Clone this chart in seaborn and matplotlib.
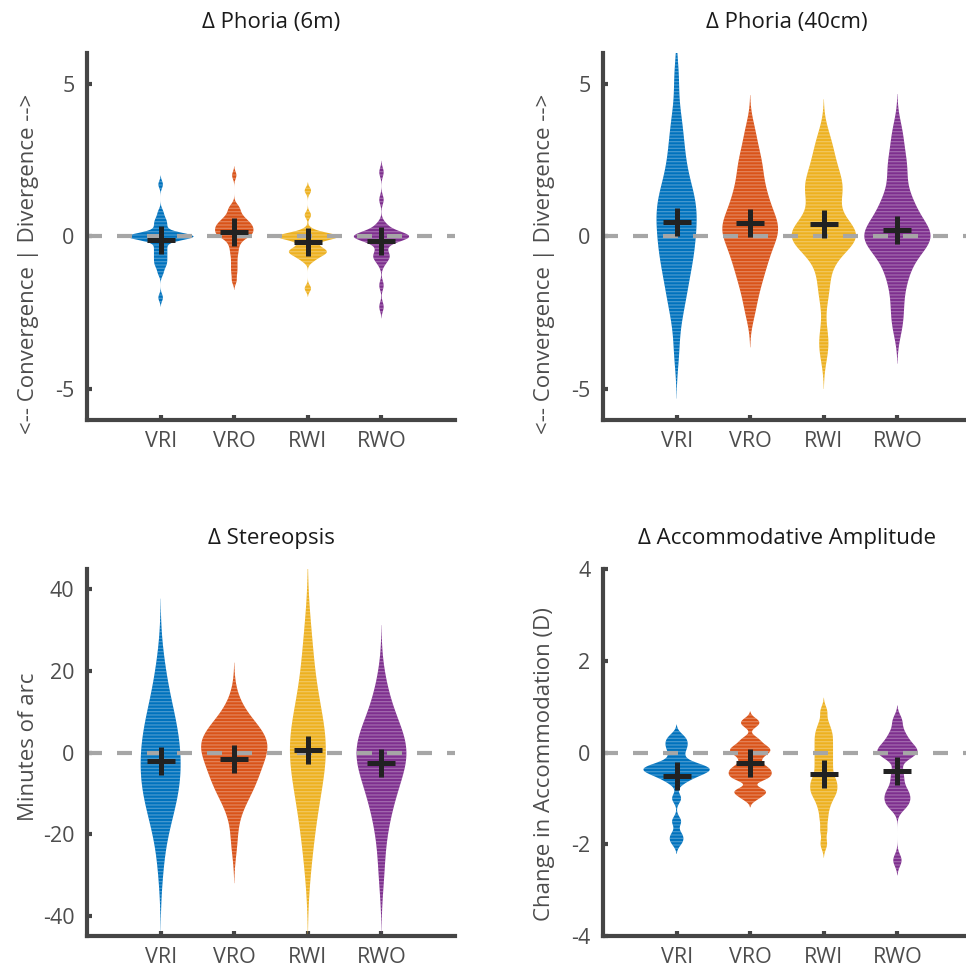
import matplotlib
matplotlib.use("Agg")
import matplotlib.pyplot as plt
import pandas as pd
import seaborn as sns

groups = ["VRI", "VRO", "RWI", "RWO"]
colors = ["#0072BD", "#D95319", "#EDB120", "#7E2F8E"]

# Change in phoria at 6 m (prism dioptres)
phoria_6m_vri = [1.7, 0.8, 0.6, 0.5, 0.4, 0.3, 0.2, 0, 0, 0, 0, 0, 0, 0, 0, 0, 0, 0, 0, 0, 0,
                 -0.2, -0.3, -0.4, -0.5, -0.6, -0.7, -0.8, -0.9, -1.0, -1.2, -2.0]
phoria_6m_vro = [2.0, 1.0, 0.9, 0.8, 0.7, 0.6, 0.6, 0.5, 0.5, 0.4, 0.4, 0.4, 0.3, 0.3, 0.3,
                 0.2, 0.2, 0.2, 0.1, 0.1, 0.1, 0, 0, 0, -0.1, -0.2, -0.3, -0.45, -0.6,
                 -0.8, -1.0, -1.2, -1.45]
phoria_6m_rwi = [1.5, 0.7, 0.2, 0.1, 0, 0, 0, 0, 0, 0, 0, 0, -0.1, -0.2, -0.3, -0.4, -0.4,
                 -0.5, -0.5, -0.5, -0.6, -0.6, -0.7, -0.8, -1.7]
phoria_6m_rwo = [2.1, 1.2, 0.4, 0.3, 0.2, 0.1, 0, 0, 0, 0, 0, 0, 0, 0, 0, 0,
                 -0.1, -0.2, -0.3, -0.5, -0.6, -0.7, -0.7, -0.9, -1.6, -2.3]

# Change in phoria at 40 cm (prism dioptres)
phoria_40_vri = [-3.8, -2.8, -2.3, -2.0, -1.7, -1.5, -1.2, -1.0, -0.8, -0.7, -0.5, -0.3,
                 -0.2, 0.0, 0.1, 0.3, 0.5, 0.6, 0.7, 0.8, 1.0, 1.2, 1.3, 1.4, 1.6, 1.8,
                 2.1, 2.4, 2.7, 3.1, 3.5, 4.0, 5.2]
phoria_40_vro = [-2.5, -2.0, -1.5, -1.5, -1.0, -1.0, -0.75, -0.5, -0.5, -0.25, 0, 0, 0,
                 0.25, 0.25, 0.5, 0.5, 0.5, 0.75, 1.0, 1.0, 1.25, 1.5, 1.5, 2.0, 2.0, 2.5,
                 2.5, 3.0, 3.5]
phoria_40_rwi = [-3.75, -3.25, -2.0, -1.5, -1.0, -0.5, -0.5, -0.25, 0, 0, 0, 0, 0, 0, 0,
                 0.25, 0.25, 0.5, 0.5, 1.0, 1.25, 1.5, 1.5, 1.5, 1.75, 2.0, 2.0, 2.5, 2.5,
                 3.0, 3.25]
phoria_40_rwo = [-3.0, -2.5, -2.0, -1.5, -1.25, -1.0, -0.75, -0.5, -0.5, -0.25, -0.25, 0,
                 0, 0, 0, 0, 0.25, 0.25, 0.5, 0.5, 0.75, 1.0, 1.0, 1.25, 1.5, 2.0, 2.25,
                 2.5, 3.0, 3.5]

# Change in stereoacuity (minutes of arc)
stereo_vri = [-28, -20, -17, -15, -13, -11, -10, -9, -7, -6, -5, -4, -2, -1, 0, 2, 3, 4,
              6, 7, 9, 11, 13, 17, 22]
stereo_vro = [-22, -15, -12, -10, -9, -8, -7, -6, -5, -4, -3, -2, -1, 0, 0, 1, 2, 2, 3,
              3, 4, 5, 5, 6, 7, 9, 12]
stereo_rwi = [-28, -22, -18, -15, -12, -10, -8, -6, -5, -3, -2, 0, 1, 2, 3, 4, 5, 7, 9,
              11, 13, 16, 20, 25, 30]
stereo_rwo = [-30, -22, -17, -14, -12, -10, -8, -7, -5, -4, -3, -2, -1, 0, 0, 1, 2, 3,
              4, 5, 6, 8, 10, 13, 17]

# Change in accommodative amplitude (dioptres)
accom_vri = [0.35, 0.25, 0.15, 0.05, -0.1, -0.25, -0.3, -0.3, -0.35, -0.35, -0.4, -0.4,
             -0.45, -0.5, -0.55, -0.65, -1.0, -1.5, -1.8, -1.95]
accom_vro = [0.7, 0.6, 0.3, 0.2, 0.1, 0.1, 0.0, 0.0, -0.1, -0.2, -0.3, -0.35, -0.4, -0.45,
             -0.5, -0.55, -0.6, -0.8, -0.85, -0.9, -1.0]
accom_rwi = [0.9, 0.65, 0.5, 0.4, 0.3, 0.2, 0.1, 0.0, -0.1, -0.2, -0.3, -0.4, -0.5, -0.6,
             -0.65, -0.7, -0.8, -0.85, -0.9, -1.0, -1.1, -1.25, -1.45, -1.7, -2.0]
accom_rwo = [0.7, 0.45, 0.3, 0.2, 0.1, 0.05, 0.0, -0.05, -0.1, -0.4, -0.6, -0.8, -0.9,
             -1.0, -1.1, -1.2, -2.35]

sns.set_style("ticks")
plt.rcParams["font.family"] = ["Open Sans", "DejaVu Sans"]
plt.rcParams["hatch.linewidth"] = 0.9

AXIS = "#454545"
TEXT = "#4d4d4d"
FONT = 16

panels = [
    dict(title="\u0394 Phoria (6m)", ylabel="<-- Convergence | Divergence -->",
         series=[phoria_6m_vri, phoria_6m_vro, phoria_6m_rwi, phoria_6m_rwo],
         ylim=(-6, 6), yticks=[-5, 0, 5], bw=0.36,
         rect=[0.0901, 0.5679, 0.381, 0.3776], label_xy=(-0.13, 0.425)),
    dict(title="\u0394 Phoria (40cm)", ylabel="<-- Convergence | Divergence -->",
         series=[phoria_40_vri, phoria_40_vro, phoria_40_rwi, phoria_40_rwo],
         ylim=(-6, 6), yticks=[-5, 0, 5], bw=0.6,
         rect=[0.6242, 0.5679, 0.381, 0.3776], label_xy=(-0.13, 0.425)),
    dict(title="\u0394 Stereopsis", ylabel="Minutes of arc",
         series=[stereo_vri, stereo_vro, stereo_rwi, stereo_rwo],
         ylim=(-45, 45), yticks=[-40, -20, 0, 20, 40], bw=1.0,
         rect=[0.0901, 0.0370, 0.381, 0.3776], label_xy=(-0.13, 0.515)),
    dict(title="\u0394 Accommodative Amplitude", ylabel="Change in Accommodation (D)",
         series=[accom_vri, accom_vro, accom_rwi, accom_rwo],
         ylim=(-4, 4), yticks=[-4, -2, 0, 2, 4], bw=0.3,
         rect=[0.6242, 0.0370, 0.381, 0.3776], label_xy=(-0.13, 0.469)),
]

fig = plt.figure(figsize=(9.66, 9.72), dpi=100)

for p in panels:
    ax = fig.add_axes(p["rect"])
    df = pd.concat(
        [pd.DataFrame({"group": g, "value": vals}) for g, vals in zip(groups, p["series"])],
        ignore_index=True,
    )
    sns.violinplot(data=df, x="group", y="value", hue="group", order=groups,
                   hue_order=groups, palette=colors, saturation=1, inner=None,
                   density_norm="area", common_norm=True, bw_adjust=p["bw"], cut=2.5,
                   width=0.9, linewidth=0, legend=False, ax=ax)
    # horizontal banding on the violin bodies
    for coll in ax.collections:
        coll.set_hatch("-----")
        coll.set_edgecolor((1, 1, 1, 0.28))
        coll.set_linewidth(0)
        coll.set_zorder(1)

    ax.axhline(0, color="#a6a6a6", lw=3, dashes=(3.6, 3.6), zorder=1.5)

    sns.pointplot(data=df, x="group", y="value", order=groups, estimator="mean",
                  errorbar=None, color="#222222", marker="+", markersize=20,
                  markeredgewidth=3.6, linestyle="none", ax=ax)

    ax.set_xlim(-1, 4)
    ax.set_ylim(*p["ylim"])
    ax.set_yticks(p["yticks"])
    ax.set_yticklabels([str(t) for t in p["yticks"]])
    ax.set_xlabel("")
    ax.set_ylabel(p["ylabel"], fontsize=FONT, color=TEXT)
    ax.yaxis.set_label_coords(*p["label_xy"])
    ax.set_title(p["title"], fontsize=FONT, color="#1a1a1a", pad=18)

    for side in ("top", "right"):
        ax.spines[side].set_visible(False)
    for side in ("left", "bottom"):
        ax.spines[side].set_color(AXIS)
        ax.spines[side].set_linewidth(3)
    ax.tick_params(axis="both", direction="in", length=3.5, width=3, color=AXIS,
                   labelsize=FONT - 0.5, labelcolor=TEXT)
    ax.tick_params(axis="y", pad=9)
    ax.tick_params(axis="x", pad=8)

fig.savefig("out.png", dpi=100)
